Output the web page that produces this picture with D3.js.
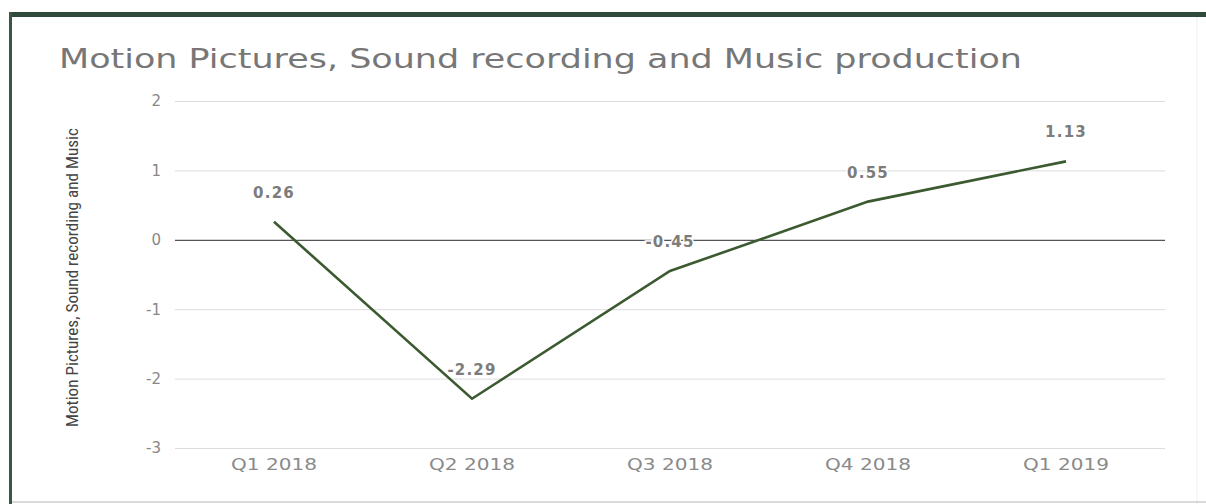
<!DOCTYPE html>
<html>
<head>
<meta charset="utf-8">
<script src="https://cdnjs.cloudflare.com/ajax/libs/d3/7.8.5/d3.min.js"></script>
<style>
  html, body { margin: 0; padding: 0; background: #fff; }
  svg { display: block; }
</style>
</head>
<body>
<script>
const categories = ["Q1 2018", "Q2 2018", "Q3 2018", "Q4 2018", "Q1 2019"];
const values = [0.26, -2.29, -0.45, 0.55, 1.13];
const valueLabels = ["0.26", "-2.29", "-0.45", "0.55", "1.13"];
const yTicks = [2, 1, 0, -1, -2, -3];
const titleText = "Motion Pictures, Sound recording and Music production";
const yAxisTitle = "Motion Pictures, Sound recording and Music";

(function () {
const W = 1206, H = 504;
const svg = d3.select("body").append("svg").attr("width", W).attr("height", H);

// frame
svg.append("rect").attr("x", 0).attr("y", 0).attr("width", W).attr("height", H).attr("fill", "#fff");
svg.append("rect").attr("x", 9).attr("y", 12).attr("width", W - 9).attr("height", 5).attr("fill", "#2f4a3a");
svg.append("rect").attr("x", 9).attr("y", 12).attr("width", 3).attr("height", H - 12).attr("fill", "#3c5646");
svg.append("line").attr("x1", 1197).attr("x2", 1197).attr("y1", 17).attr("y2", H).attr("stroke", "#eee").attr("stroke-width", 1);
svg.append("line").attr("x1", 12).attr("x2", W).attr("y1", 502).attr("y2", 502).attr("stroke", "#ccc").attr("stroke-width", 1.5);

const mLeft = 175, mRight = 1165, mTop = 101, mBottom = 448;
const x = d3.scaleBand().domain(categories).range([mLeft, mRight]);
const y = d3.scaleLinear().domain([-3, 2]).range([mBottom, mTop]);

// title
svg.append("text").attr("x", 59).attr("y", 68)
  .attr("font-family", "'DejaVu Sans', Verdana, sans-serif").attr("font-size", 26)
  .attr("fill", "#777")
  .attr("textLength", 963).attr("lengthAdjust", "spacingAndGlyphs")
  .text(titleText);

// gridlines
const yAxis = d3.axisLeft(y).tickValues(yTicks).tickSize(-(mRight - mLeft)).tickPadding(14).tickFormat(d => String(d));
const gY = svg.append("g").attr("transform", `translate(${mLeft},0)`).call(yAxis);
gY.select(".domain").remove();
gY.selectAll(".tick line").attr("stroke", d => d === 0 ? "#555" : "#dcdcdc").attr("stroke-width", d => d === 0 ? 1.3 : 1);
gY.selectAll(".tick text").attr("font-family", "'DejaVu Sans', sans-serif").attr("font-size", 15).attr("fill", "#888");

// x axis labels
const xAxis = d3.axisBottom(x).tickSize(0).tickPadding(11);
const gX = svg.append("g").attr("transform", `translate(0,${mBottom})`).call(xAxis);
gX.select(".domain").remove();
gX.selectAll(".tick text").attr("font-family", "'DejaVu Sans', sans-serif").attr("font-size", 15).attr("fill", "#8a8a8a")
  .attr("textLength", 86).attr("lengthAdjust", "spacingAndGlyphs");

// y-axis title
svg.append("text")
  .attr("transform", `translate(78,${(128 + 427) / 2}) rotate(-90)`)
  .attr("text-anchor", "middle")
  .attr("font-family", "'Liberation Sans Narrow', 'Roboto Condensed', Roboto, sans-serif")
  .attr("font-size", 17).attr("fill", "#444")
  .attr("textLength", 299).attr("lengthAdjust", "spacingAndGlyphs")
  .text(yAxisTitle);

// line
const cx = d => x(d) + x.bandwidth() / 2;
const line = d3.line().x((d, i) => cx(categories[i])).y(d => y(d));
svg.append("path").datum(values).attr("d", line)
  .attr("fill", "none").attr("stroke", "#3b5a30").attr("stroke-width", 2.6).attr("stroke-linejoin", "miter");

// data labels
svg.selectAll(".dl").data(values).enter().append("text")
  .attr("class", "dl")
  .attr("x", (d, i) => cx(categories[i]))
  .attr("y", d => y(d) - 24)
  .attr("text-anchor", "middle")
  .attr("font-family", "'DejaVu Sans', sans-serif").attr("font-size", 15).attr("font-weight", "bold")
  .attr("letter-spacing", 1.2)
  .attr("fill", "#7c7c7c")
  .attr("paint-order", "stroke").attr("stroke", "#fff").attr("stroke-width", 3)
  .text((d, i) => valueLabels[i]);
})();
</script>
</body>
</html>
